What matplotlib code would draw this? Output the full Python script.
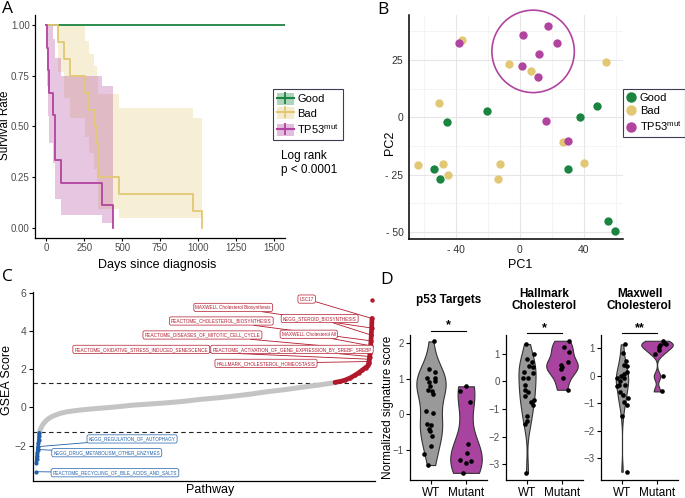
import numpy as np
import matplotlib
matplotlib.use("Agg")
import matplotlib.pyplot as plt
from matplotlib.patches import Patch, Ellipse
from matplotlib.lines import Line2D
from matplotlib.legend_handler import HandlerTuple
import matplotlib.transforms as mtrans

plt.rcParams['font.family'] = ['Liberation Sans', 'DejaVu Sans']
plt.rcParams['mathtext.fontset'] = 'custom'
plt.rcParams['mathtext.rm'] = 'Liberation Sans'

# ------------------------------------------------------------------ data
group_names = ['Good', 'Bad', 'TP53$^\\mathregular{mut}$']

# A: Kaplan-Meier curves (days, survival, CI low, CI high)
good_days = [0, 1575]
good_surv = [1.0, 1.0]
good_lo = [1.0, 1.0]
good_hi = [1.0, 1.0]

bad_days = [0, 77, 117, 159, 254, 282, 315, 335, 340, 481, 966, 1026]
bad_surv = [1.0, 0.917, 0.833, 0.75, 0.667, 0.583, 0.5, 0.417, 0.25, 0.167, 0.083, 0.0]
bad_lo = [1.0, 0.77, 0.64, 0.54, 0.45, 0.37, 0.29, 0.22, 0.095, 0.05, 0.05, 0.05]
bad_hi = [1.0, 1.0, 1.0, 1.0, 0.92, 0.86, 0.80, 0.75, 0.66, 0.59, 0.54, 0.54]

mut_days = [0, 3, 10, 18, 44, 55, 60, 99, 364, 437]
mut_surv = [1.0, 0.889, 0.778, 0.667, 0.556, 0.444, 0.333, 0.222, 0.111, 0.0]
mut_lo = [1.0, 0.70, 0.55, 0.42, 0.32, 0.25, 0.14, 0.065, 0.025, 0.025]
mut_hi = [1.0, 1.0, 1.0, 1.0, 0.93, 0.88, 0.84, 0.75, 0.70, 0.70]

days_ticks = [0, 250, 500, 750, 1000, 1250, 1500]
surv_ticks = [0.0, 0.25, 0.5, 0.75, 1.0]

# B: PCA
good_pc1 = [-45.4, -20.8, 37.3, 47.9, -54.0, -50.2, 30.2, 55.2, 59.2]
good_pc2 = [-1.9, 2.8, 0.3, 4.9, -22.3, -26.9, -22.6, -45.1, -49.3]
bad_pc1 = [-36.5, -6.9, 6.7, 53.5, -50.4, -63.75, -48.3, -44.8, -12.7, -14.0, 27.1, 39.8]
bad_pc2 = [33.5, 23.1, 20.2, 24.2, 6.1, -20.8, -20.5, -25.0, -20.4, -26.8, -10.8, -19.9]
mut_pc1 = [-38.3, 2.1, 17.5, 23.3, 11.7, 1.0, 11.25, 16.0, 29.8]
mut_pc2 = [32.3, 36.1, 39.7, 32.5, 27.7, 22.3, 17.8, -1.5, -10.3]
pc1_ticks = [-40, 0, 40]
pc1_labels = ['- 40', '0', '40']
pc2_ticks = [-50, -25, 0, 25]
pc2_labels = ['- 50', '- 25', '0', '25']

# C: ranked GSEA scores
pathway_rank = [0, 1, 2, 3, 4, 5, 6, 7, 8, 9, 10,
                11, 13, 17, 22, 32, 40, 52, 70, 91, 120, 151, 185, 220, 250, 289,
                340, 388, 440, 488, 540, 587, 640, 686, 740, 785, 840, 884,
                889, 905, 919, 935, 949, 960, 970, 980, 985, 988, 989, 990, 991,
                992, 993, 994, 995, 996, 997, 998, 999, 1000]
gsea_score = [-3.36, -2.90, -2.72, -2.55, -2.38, -2.20, -2.05, -1.88, -1.70, -1.50, -1.32,
              -1.28, -1.15, -1.00, -0.85, -0.66, -0.55, -0.44, -0.32, -0.23, -0.16, -0.10,
              -0.05, 0.0, 0.05, 0.12, 0.18, 0.24, 0.32, 0.42, 0.50, 0.59, 0.70, 0.82, 0.93,
              1.04, 1.17, 1.28,
              1.31, 1.36, 1.43, 1.55, 1.69, 1.82, 1.95, 2.08, 2.15, 2.22, 2.30, 2.40, 2.52,
              2.66, 2.82, 3.00, 3.22, 3.48, 3.78, 4.15, 4.65, 5.6]
gsea_threshold = 1.3
gsea_ticks = [-2, 0, 2, 4, 6]
up_labels = ['LSC17', 'MAXWELL Cholesterol Biosynthesis', 'KEGG_STEROID_BIOSYNTHESIS',
             'REACTOME_CHOLESTEROL_BIOSYNTHESIS', 'MAXWELL Cholesterol All',
             'REACTOME_DISEASES_OF_MITOTIC_CELL_CYCLE',
             'REACTOME_OXIDATIVE_STRESS_INDUCED_SENESCENCE',
             'REACTOME_ACTIVATION_OF_GENE_EXPRESSION_BY_SREBF_SREBP',
             'HALLMARK_CHOLESTEROL_HOMEOSTASIS']
up_label_rank = [999, 998, 997, 996, 995, 994, 991, 992, 990]
down_labels = ['KEGG_REGULATION_OF_AUTOPHAGY', 'KEGG_DRUG_METABOLISM_OTHER_ENZYMES',
               'REACTOME_RECYCLING_OF_BILE_ACIDS_AND_SALTS']
down_label_rank = [6, 5, 0]

# D: violin data
d_titles = ['p53 Targets', 'Hallmark\nCholesterol', 'Maxwell\nCholesterol']
d_groups = ['WT', 'Mutant']
d_signif = ['*', '*', '**']
p53_wt = [2.05, 1.27, 1.19, 1.02, 1.03, 0.92, 0.80, 0.65, 0.58, 0.95, 0.70, 0.11, 0.03,
          -0.27, -0.30, -0.40, -0.47, -0.60, -0.88, -1.10, -1.42]
p53_mut = [0.79, 0.65, 0.36, -0.82, -1.08, -1.29, -1.36, -1.32, -1.64]
hall_wt = [1.36, 0.99, 0.81, 0.72, 0.57, 0.52, 0.33, 0.30, 0.14, 0.12, -0.12, -0.30,
           -0.39, -0.54, -0.66, -0.75, -0.87, -1.25, -1.45, -1.55, -3.32]
hall_mut = [1.48, 1.24, 1.08, 0.72, 0.59, 0.52, 0.45, 0.12, -0.30]
maxw_wt = [1.14, 0.82, 0.52, 0.40, 0.34, 0.12, 0.07, -0.02, -0.08, -0.08, -0.20, -0.33,
           -0.33, -0.39, -0.60, -0.69, -0.81, -0.96, -1.05, -1.47, -3.49]
maxw_mut = [1.27, 1.20, 1.15, 1.12, 1.05, 0.92, 0.80, -0.02, -0.57]

# jitter offsets of the dots
p53_wt_jit = [0.08, -0.07, 0.10, -0.11, 0.10, -0.05, -0.02, 0.02, 0.05, 0.12, -0.09, -0.13,
              0.07, -0.11, 0.0, -0.05, -0.02, 0.02, -0.01, -0.21, -0.08]
p53_mut_jit = [0.0, -0.17, 0.11, 0.05, 0.03, -0.17, -0.01, 0.14, -0.08]
hall_wt_jit = [-0.04, 0.19, 0.01, 0.14, 0.05, 0.18, -0.08, 0.16, -0.11, 0.04, -0.06, -0.06,
               0.04, -0.06, 0.21, 0.12, 0.17, 0.01, 0.01, -0.05, -0.02]
hall_mut_jit = [0.21, 0.06, 0.21, 0.18, -0.02, 0.01, -0.02, 0.03, 0.16]
maxw_wt_jit = [0.09, 0.03, 0.12, 0.05, 0.15, 0.15, 0.05, -0.03, -0.14, 0.05, -0.05, 0.09,
               -0.08, -0.14, -0.06, 0.03, 0.18, 0.06, 0.15, 0.0, 0.14]
maxw_mut_jit = [0.16, 0.21, 0.27, 0.09, 0.05, 0.05, -0.06, 0.18, 0.14]

# ------------------------------------------------------------------ style
GOOD = '#1B8440'
BAD = '#E2C874'
MUT = '#B0449E'
W, H = 685, 498
fig = plt.figure(figsize=(W / 100, H / 100), dpi=100)


def px_box(l, t, r, b):
    return [l / W, 1 - b / H, (r - l) / W, (b - t) / H]


def classic(ax):
    for s in ('top', 'right'):
        ax.spines[s].set_visible(False)
    for s in ('left', 'bottom'):
        ax.spines[s].set_linewidth(0.9)
        ax.spines[s].set_color('black')
    ax.tick_params(length=3, width=0.8, labelsize=7.5, labelcolor='#4D4D4D', pad=2)


# ------------------------------------------------------------------ panel A
axA = fig.add_axes(px_box(35, 15, 285, 238))
classic(axA)
km = [(good_days, good_surv, good_lo, good_hi, GOOD),
      (bad_days, bad_surv, bad_lo, bad_hi, BAD),
      (mut_days, mut_surv, mut_lo, mut_hi, MUT)]
for d, s, lo, hi, c in km:
    axA.fill_between(d, lo, hi, step='post', color=c, alpha=0.3, lw=0)
for d, s, lo, hi, c in km:
    axA.step(d, s, where='post', color=c, lw=1.3)
axA.set_xlim(-75, 1575)
axA.set_ylim(-0.05, 1.05)
axA.set_xticks(days_ticks)
axA.set_yticks(surv_ticks)
axA.set_yticklabels(['%.2f' % v for v in surv_ticks])
axA.tick_params(labelsize=7.0, pad=1.2, length=2.5)
axA.set_xlabel('Days since diagnosis', fontsize=9, va='center')
axA.set_ylabel('Survival Rate', fontsize=8.4, va='center')
axA.xaxis.set_label_coords(0.488, -0.121)
axA.yaxis.set_label_coords(-0.118, 0.507)

hA = [(Patch(fc=c, alpha=0.35, ec='none'),
       Line2D([], [], color=c, lw=1.5, marker='|', markersize=8, mew=1.3))
      for c in (GOOD, BAD, MUT)]
legA = fig.legend(hA, group_names, loc='upper left',
                  bbox_to_anchor=(273 / W, 1 - 89 / H), borderaxespad=0,
                  fontsize=8, handler_map={tuple: HandlerTuple(ndivide=1)},
                  handlelength=1.5, handleheight=1.25, handletextpad=0.35,
                  labelspacing=0.25, borderpad=0.35, fancybox=False,
                  edgecolor='#3C3C55', framealpha=1)
legA.get_frame().set_linewidth(0.8)
fig.text(281 / W, 1 - 150 / H, 'Log rank\np < 0.0001', fontsize=8.5,
         va='top', ha='left', linespacing=1.2)

# ------------------------------------------------------------------ panel B
B_L, B_T, B_R, B_B = 409, 15, 623, 239
B_XLIM = (-69.4, 64.4)
B_YLIM = (-53, 44.6)
axB = fig.add_axes(px_box(B_L, B_T, B_R, B_B))
axB.set_xlim(*B_XLIM)
axB.set_ylim(*B_YLIM)
for s in ('top', 'right'):
    axB.spines[s].set_visible(False)
for s in ('left', 'bottom'):
    axB.spines[s].set_linewidth(1.1)
axB.set_xticks(pc1_ticks)
axB.set_xticklabels(pc1_labels)
axB.set_yticks(pc2_ticks)
axB.set_yticklabels(pc2_labels)
axB.set_xticks([-60, -20, 20, 60], minor=True)
axB.set_yticks([-37.5, -12.5, 12.5, 37.5], minor=True)
axB.grid(True, which='major', color='#E6E6E6', lw=0.8)
axB.grid(True, which='minor', color='#F0F0F0', lw=0.5)
axB.set_axisbelow(True)
axB.tick_params(which='both', length=0, labelsize=7.5, labelcolor='#333333', pad=4)
axB.scatter(good_pc1, good_pc2, s=36, color=GOOD, lw=0, zorder=3)
axB.scatter(bad_pc1, bad_pc2, s=36, color=BAD, lw=0, zorder=3)
axB.scatter(mut_pc1, mut_pc2, s=36, color=MUT, lw=0, zorder=3)
axB.set_xlabel('PC1', fontsize=9, va='center')
axB.set_ylabel('PC2', fontsize=9, va='center')
axB.xaxis.set_label_coords(0.519, -0.116)
axB.yaxis.set_label_coords(-0.089, 0.43)

# highlight circle around the upper TP53mut cluster (computed from the points)
sx = (B_R - B_L) / (B_XLIM[1] - B_XLIM[0])
sy = (B_B - B_T) / (B_YLIM[1] - B_YLIM[0])
allx = np.array(mut_pc1 + bad_pc1, float)
ally = np.array(mut_pc2 + bad_pc2, float)
sel = (ally > 15) & (allx > -10) & (allx < 30)
cx = (allx[sel].min() + allx[sel].max()) / 2
cy = (ally[sel].min() + ally[sel].max()) / 2
rad = np.max(np.hypot((allx[sel] - cx) * sx, (ally[sel] - cy) * sy)) + 12
circ = Ellipse((cx, cy), 2 * rad / sx, 2 * rad / sy, fill=False, ec=MUT, lw=1.2, zorder=2)
circ.set_clip_on(False)
axB.add_patch(circ)

hB = [Line2D([], [], ls='none', marker='o', markersize=6.5, color=c) for c in (GOOD, BAD, MUT)]
legB = fig.legend(hB, group_names, loc='upper left',
                  bbox_to_anchor=(623 / W, 1 - 89 / H), borderaxespad=0,
                  fontsize=8, handlelength=0.8, handletextpad=0.35,
                  labelspacing=0.3, borderpad=0.35, fancybox=False,
                  edgecolor='#3C3C55', framealpha=1)
legB.get_frame().set_linewidth(0.8)

# ------------------------------------------------------------------ panel C
axC = fig.add_axes(px_box(33.3, 291.7, 375, 480.7))
classic(axC)
axC.set_xlim(-8, 1008)
axC.set_ylim(-3.83, 6.05)
axC.set_xticks([])
axC.set_yticks(gsea_ticks)
axC.set_xlabel('Pathway', fontsize=9, va='center')
axC.set_ylabel('GSEA Score', fontsize=9, va='center')
axC.xaxis.set_label_coords(0.517, -0.049)
axC.yaxis.set_label_coords(-0.077, 0.533)
axC.axhline(gsea_threshold, color='#222222', lw=0.8, ls=(0, (4, 3)), zorder=1)
axC.axhline(-gsea_threshold, color='#222222', lw=0.8, ls=(0, (4, 3)), zorder=1)

rk = np.array(pathway_rank, float)
sc = np.array(gsea_score, float)
mid = np.abs(sc) < gsea_threshold + 0.05
up = sc >= gsea_threshold
dn = sc <= -gsea_threshold
RED = '#B2182B'
BLUE = '#1F5FA6'
axC.plot(rk[mid], sc[mid], color='#C4C4C4', lw=3.6, solid_capstyle='round', zorder=2)
axC.plot(rk[up][:-1], sc[up][:-1], color=RED, lw=3.4, solid_capstyle='round', zorder=3)
axC.scatter(rk[up], sc[up], s=10, color=RED, lw=0, zorder=3)
axC.plot(rk[dn][1:], sc[dn][1:], color=BLUE, lw=2.4, solid_capstyle='round', zorder=3)
axC.scatter(rk[dn], sc[dn], s=9, color=BLUE, lw=0, zorder=3)

up_pos = [(0.800, 0.961), (0.585, 0.917), (0.838, 0.858), (0.550, 0.845), (0.806, 0.775),
          (0.495, 0.771), (0.316, 0.695), (0.757, 0.695), (0.681, 0.621)]
down_pos = [(0.289, 0.221), (0.215, 0.148), (0.239, 0.042)]
for lab, r, pos in zip(up_labels, up_label_rank, up_pos):
    s_val = sc[list(pathway_rank).index(r)]
    axC.annotate(lab, xy=(r, s_val), xycoords='data', xytext=pos, textcoords='axes fraction',
                 fontsize=3.3, color=RED, ha='center', va='center', zorder=5,
                 bbox=dict(boxstyle='round,pad=0.35,rounding_size=0.4', fc='white', ec=RED, lw=0.5),
                 arrowprops=dict(arrowstyle='-', color=RED, lw=0.6, shrinkA=0, shrinkB=1))
for lab, r, pos in zip(down_labels, down_label_rank, down_pos):
    s_val = sc[list(pathway_rank).index(r)]
    axC.annotate(lab, xy=(r, s_val), xycoords='data', xytext=pos, textcoords='axes fraction',
                 fontsize=3.3, color=BLUE, ha='center', va='center', zorder=5,
                 bbox=dict(boxstyle='round,pad=0.35,rounding_size=0.4', fc='white', ec=BLUE, lw=0.5),
                 arrowprops=dict(arrowstyle='-', color=BLUE, lw=0.6, shrinkA=0, shrinkB=1))

# ------------------------------------------------------------------ panel D
def density(vals, grid):
    v = np.asarray(vals, float)
    n = len(v)
    sd = v.std(ddof=1)
    q75, q25 = np.percentile(v, [75, 25])
    bw = 0.9 * min(sd, (q75 - q25) / 1.34) * n ** -0.2
    z = (grid[:, None] - v[None, :]) / bw
    return np.exp(-0.5 * z ** 2).sum(1) / (n * bw * np.sqrt(2 * np.pi))


d_sets = [((p53_wt, p53_wt_jit), (p53_mut, p53_mut_jit)),
          ((hall_wt, hall_wt_jit), (hall_mut, hall_mut_jit)),
          ((maxw_wt, maxw_wt_jit), (maxw_mut, maxw_mut_jit))]
d_left = [410, 506, 601]
d_ylim = [(-1.84, 2.23), (-3.58, 1.69), (-3.79, 1.48)]
d_yticks = [[-1, 0, 1, 2], [-3, -2, -1, 0, 1], [-3, -2, -1, 0, 1]]
d_bar = [1.028, 1.012, 1.012]
vcols = ['#999999', '#A8449F']
for i in range(3):
    ax = fig.add_axes(px_box(d_left[i], 335, d_left[i] + 77, 480))
    classic(ax)
    ax.set_xlim(0.4, 2.6)
    ax.set_ylim(*d_ylim[i])
    ax.set_yticks(d_yticks[i])
    ax.set_xticks([1, 2])
    ax.set_xticklabels(d_groups)
    ax.tick_params(axis='x', labelsize=8.5, labelcolor='black', pad=2)
    ax.tick_params(axis='y', labelsize=7, pad=1.5)
    grids, dens = [], []
    for vals, jit in d_sets[i]:
        g = np.linspace(min(vals), max(vals), 512)
        grids.append(g)
        dens.append(density(vals, g))
    mx = max(d.max() for d in dens)
    for k, (vals, jit) in enumerate(d_sets[i]):
        hw = 0.45 * dens[k] / mx
        ax.fill_betweenx(grids[k], k + 1 - hw, k + 1 + hw, fc=vcols[k], ec='#333333',
                         lw=0.8, zorder=2)
        ax.scatter(np.array(jit) + k + 1, vals, s=11, color='black', lw=0, zorder=3)
    tr = mtrans.blended_transform_factory(ax.transData, ax.transAxes)
    ax.plot([1, 2], [d_bar[i], d_bar[i]], color='black', lw=0.8, transform=tr, clip_on=False)
    ax.text(1.5, d_bar[i] - 0.005, d_signif[i], transform=tr, ha='center', va='bottom',
            fontsize=9, fontweight='bold')
    ax.text(0.5, 1.241, d_titles[i], transform=ax.transAxes, ha='center', va='center',
            fontsize=8.5, fontweight='bold', linespacing=1.05)
    if i == 0:
        ax.set_ylabel('Normalized signature score', fontsize=8.5, va='center')
        ax.yaxis.set_label_coords(-0.292, 0.503)

# ------------------------------------------------------------------ panel letters
for lab, x, y in [('A', 2, 1), ('B', 377, 2), ('C', 2, 269), ('D', 380, 272)]:
    fig.text(x / W, 1 - y / H, lab, fontsize=12.5, va='top', ha='left',
             family=['Open Sans', 'DejaVu Sans'])

fig.savefig('out.png', dpi=100)
